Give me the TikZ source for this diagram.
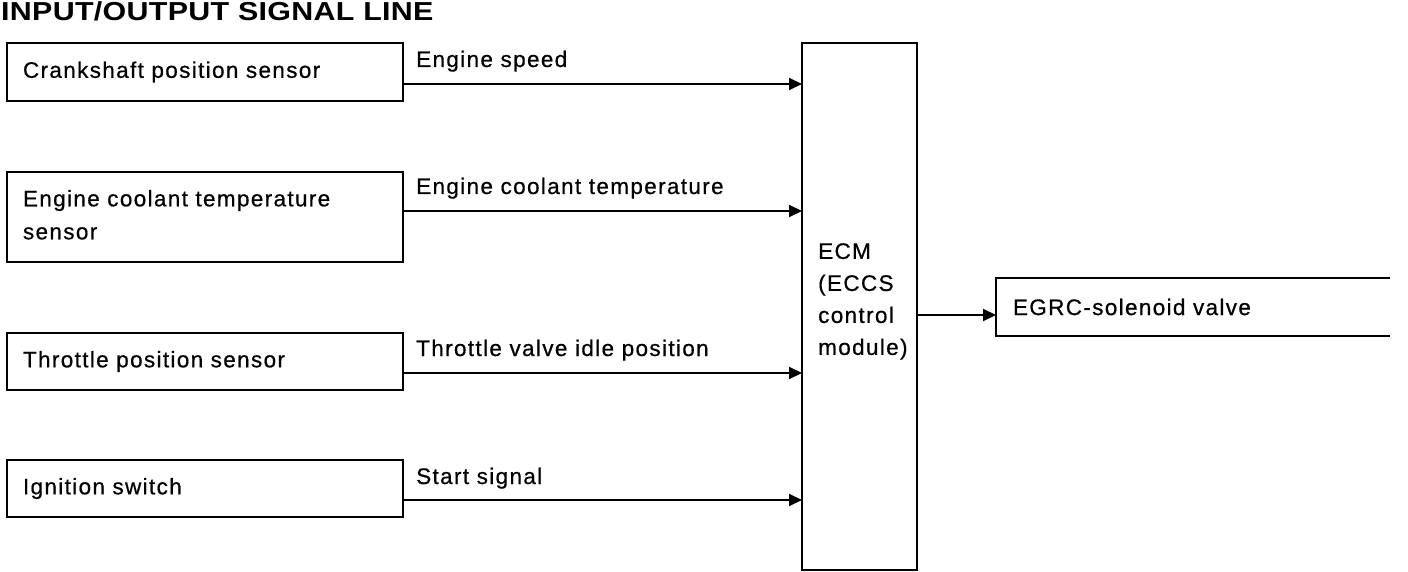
\documentclass[tikz,border=0pt]{standalone}
\usepackage{fontspec}
\setmainfont{Liberation Sans}[LetterSpace=6,FakeBold=0.6]
\newfontfamily\titlefont{Liberation Sans}[LetterSpace=1]
\usetikzlibrary{arrows.meta}
\begin{document}
\begin{tikzpicture}[x=1pt,y=-1pt,
  every node/.style={font=\fontsize{22.5}{33}\selectfont},
  sbox/.style={draw, line width=2.2pt, anchor=north west, inner xsep=16pt, inner ysep=0pt, text width=364pt, align=left, outer sep=0pt},
  lbl/.style={anchor=base west, inner sep=0pt},
  sig/.style={line width=2pt, -{Triangle[length=13pt,width=12pt]}},
  frame/.style={line width=2.2pt}
]
\useasboundingbox (0,0) rectangle (1408,572);
\node[anchor=base west, inner sep=0pt, font=\titlefont\bfseries\fontsize{26}{30}\selectfont] (title) at (1,21) {\scalebox{1.17}[1]{INPUT/OUTPUT SIGNAL LINE}};

\node[sbox, minimum height=58pt] (crank) at (7,43) {Crankshaft position sensor};
\node[sbox, minimum height=90pt] (cool) at (7,172) {Engine coolant temperature\\sensor\vphantom{p}};
\node[sbox, minimum height=57pt] (thr) at (7,333) {Throttle position sensor};
\node[sbox, minimum height=57pt] (ign) at (7,460) {Ignition switch};

\node[draw, frame, anchor=north west, minimum width=115pt, minimum height=527pt, inner sep=0pt, outer sep=0pt] (ecm) at (802,43) {};
\node[anchor=north west, inner sep=0pt, align=left, font=\fontsize{22.5}{32}\selectfont] (ecmtext) at (818,243) {ECM\\(ECCS\\control\\module)};

\node[anchor=north west, minimum height=58pt, inner xsep=17pt, inner ysep=0pt, text width=360pt, align=left, outer sep=0pt] (egrc) at (996,278) {EGRC-solenoid valve};
\draw[frame] (egrc.north east) -- (egrc.north west) -- (egrc.south west) -- (egrc.south east);

\coordinate (r1) at (0,84);
\coordinate (r2) at (0,211);
\coordinate (r3) at (0,373);
\coordinate (r4) at (0,500);
\coordinate (r5) at (0,315);

\draw[sig] (crank.east |- r1) -- (ecm.west |- r1);
\draw[sig] (cool.east |- r2) -- (ecm.west |- r2);
\draw[sig] (thr.east |- r3) -- (ecm.west |- r3);
\draw[sig] (ign.east |- r4) -- (ecm.west |- r4);
\draw[sig] (ecm.east |- r5) -- (egrc.west |- r5);

\node[lbl] (l1) at (416,67) {Engine speed};
\node[lbl] (l2) at (416,194) {Engine coolant temperature};
\node[lbl] (l3) at (416,356) {Throttle valve idle position};
\node[lbl] (l4) at (416,484) {Start signal};
\end{tikzpicture}
\end{document}
